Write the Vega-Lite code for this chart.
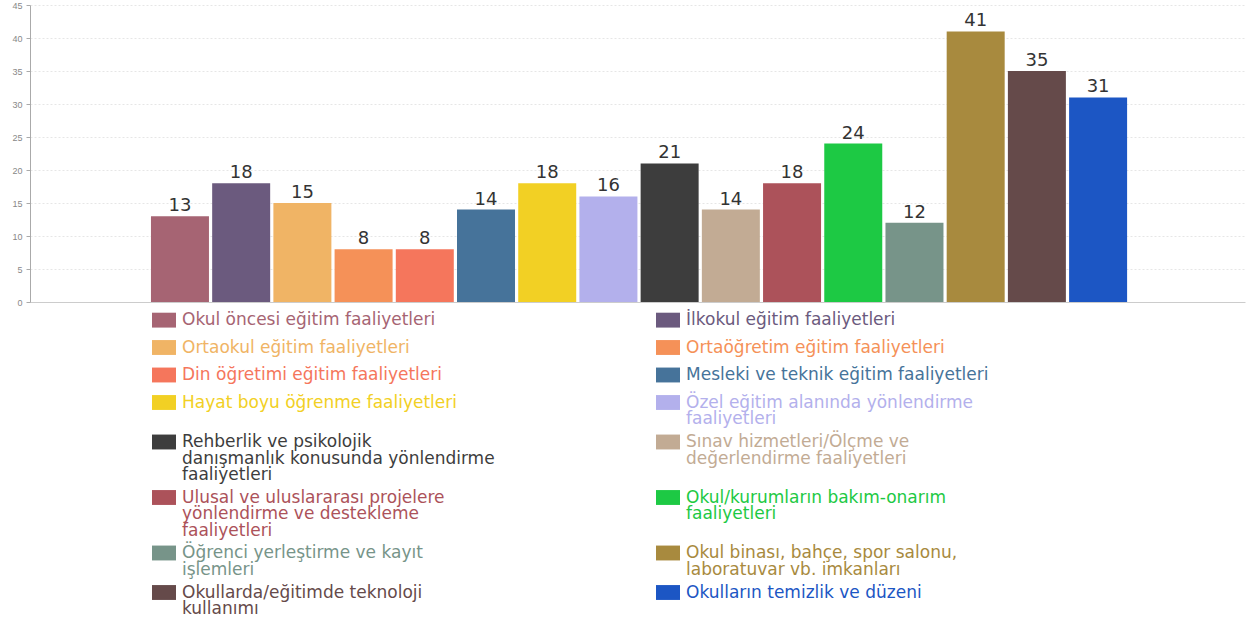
{
  "$schema": "https://vega.github.io/schema/vega-lite/v6.json",
  "width": 1215,
  "height": 297,
  "autosize": {"type": "none"},
  "padding": {"left": 30, "top": 5, "right": 3, "bottom": 322},
  "background": "white",
  "data": {
    "values": [
      {"i": 1, "category": "Okul öncesi eğitim faaliyetleri", "value": 13},
      {"i": 2, "category": "İlkokul eğitim faaliyetleri", "value": 18},
      {"i": 3, "category": "Ortaokul eğitim faaliyetleri", "value": 15},
      {"i": 4, "category": "Ortaöğretim eğitim faaliyetleri", "value": 8},
      {"i": 5, "category": "Din öğretimi eğitim faaliyetleri", "value": 8},
      {"i": 6, "category": "Mesleki ve teknik eğitim faaliyetleri", "value": 14},
      {"i": 7, "category": "Hayat boyu öğrenme faaliyetleri", "value": 18},
      {"i": 8, "category": "Özel eğitim alanında yönlendirme\nfaaliyetleri", "value": 16},
      {"i": 9, "category": "Rehberlik ve psikolojik\ndanışmanlık konusunda yönlendirme\nfaaliyetleri", "value": 21},
      {"i": 10, "category": "Sınav hizmetleri/Ölçme ve\ndeğerlendirme faaliyetleri", "value": 14},
      {"i": 11, "category": "Ulusal ve uluslararası projelere\nyönlendirme ve destekleme\nfaaliyetleri", "value": 18},
      {"i": 12, "category": "Okul/kurumların bakım-onarım\nfaaliyetleri", "value": 24},
      {"i": 13, "category": "Öğrenci yerleştirme ve kayıt\nişlemleri", "value": 12},
      {"i": 14, "category": "Okul binası, bahçe, spor salonu,\nlaboratuvar vb. imkanları", "value": 41},
      {"i": 15, "category": "Okullarda/eğitimde teknoloji\nkullanımı", "value": 35},
      {"i": 16, "category": "Okulların temizlik ve düzeni", "value": 31}
    ]
  },
  "encoding": {
    "x": {
      "field": "i",
      "type": "quantitative",
      "scale": {"domain": [-1.45, 18.4], "nice": false, "zero": false, "padding": 0},
      "axis": {"labels": false, "ticks": false, "grid": false, "title": null, "domainColor": "#cccccc"}
    },
    "y": {
      "field": "value",
      "type": "quantitative",
      "scale": {"domain": [0, 45], "nice": false},
      "axis": {
        "title": null,
        "values": [0, 5, 10, 15, 20, 25, 30, 35, 40, 45],
        "labelFont": "Liberation Sans",
        "labelFontSize": 9,
        "labelColor": "#888888",
        "tickSize": 4,
        "tickColor": "#aaaaaa",
        "labelPadding": 4,
        "domainColor": "#aaaaaa",
        "gridColor": "#e6e6e6",
        "gridDash": [2, 2]
      }
    }
  },
  "layer": [
    {
      "mark": {"type": "bar", "size": 58},
      "encoding": {
        "color": {
          "field": "category",
          "type": "nominal",
          "sort": null,
          "scale": {
            "range": ["#A66473", "#6B5A7E", "#F0B465", "#F59158", "#F5765C", "#46739A", "#F2D024", "#B3B0EC", "#3D3D3D", "#C2AB94", "#AC525A", "#1DC944", "#779489", "#A88A3E", "#654A4A", "#1C56C4"]
          },
          "legend": {
            "orient": "none",
            "legendX": 122,
            "legendY": 303,
            "direction": "horizontal",
            "columns": 2,
            "title": null,
            "padding": 0,
            "columnPadding": 161,
            "rowPadding": 1.5,
            "symbolType": "M-1,-0.62H1V0.62H-1ZM0,-1.06M0,1.06",
            "symbolSize": 576,
            "symbolStrokeWidth": 0,
            "symbolOpacity": 1,
            "labelOffset": 6,
            "labelFont": "DejaVu Sans",
            "labelFontSize": 17,
            "labelLimit": 0,
            "labelExpr": "split(test(/^(Hayat|Sınav|Okul\\/|Okulların)/, datum.label) ? datum.label + '\\n ' : datum.label, '\\n')",
            "encode": {
              "labels": {"update": {"fill": {"scale": "color", "field": "value"}, "lineHeight": {"value": 16.5}}}
            }
          }
        }
      }
    },
    {
      "mark": {"type": "text", "baseline": "bottom", "dy": -1, "font": "DejaVu Sans", "fontSize": 18, "color": "#333333"},
      "encoding": {"text": {"field": "value", "type": "quantitative"}}
    }
  ],
  "config": {"view": {"stroke": null}}
}
